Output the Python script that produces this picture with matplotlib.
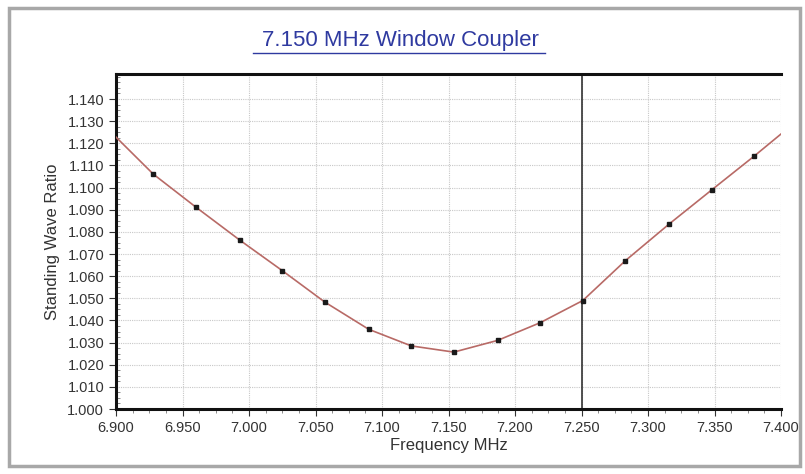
import numpy as np
import matplotlib
matplotlib.use('Agg')
import matplotlib.pyplot as plt
from matplotlib.patches import Rectangle
from matplotlib.ticker import MultipleLocator, FormatStrFormatter

plt.rcParams['font.family'] = ['Liberation Sans', 'DejaVu Sans']

# 数据：频率 (MHz) 与驻波比
freq = [6.900, 6.928, 6.960, 6.993, 7.025, 7.057, 7.090, 7.122, 7.154,
        7.187, 7.219, 7.251, 7.283, 7.316, 7.348, 7.380, 7.400]
swr = [1.1228, 1.1061, 1.0912, 1.0763, 1.0625, 1.0483, 1.0360, 1.0285, 1.0257,
       1.0310, 1.0390, 1.0490, 1.0670, 1.0836, 1.0990, 1.1143, 1.1242]
# 只有中间这些点有标记
mark_freq = freq[1:-1]
mark_swr = swr[1:-1]
band_edge = 7.250
y_ticks = [1.000, 1.010, 1.020, 1.030, 1.040, 1.050, 1.060, 1.070,
           1.080, 1.090, 1.100, 1.110, 1.120, 1.130, 1.140]

fig = plt.figure(figsize=(8.05, 4.74), dpi=100)
# 外框
fig.patches.append(Rectangle((0.011, 0.017), 0.983, 0.966, transform=fig.transFigure,
                             fill=False, edgecolor='#a8a8a8', linewidth=2.5))
ax = fig.add_axes([0.1441, 0.1371, 0.8261, 0.7068])

ax.plot(freq, swr, color='#b86a66', linewidth=1.2, zorder=3)
ax.plot(mark_freq, mark_swr, linestyle='none', marker='s', markersize=3,
        color='#1a1a1a', zorder=4)
ax.axvline(band_edge, color='#333333', linewidth=1.2, zorder=2)

ax.set_xlim(6.9, 7.4)
ax.set_ylim(1.0, 1.1513)
ax.xaxis.set_major_locator(MultipleLocator(0.05))
ax.xaxis.set_minor_locator(MultipleLocator(0.0125))
ax.set_yticks(y_ticks)
ax.yaxis.set_minor_locator(MultipleLocator(0.0025))
ax.xaxis.set_major_formatter(FormatStrFormatter('%.3f'))
ax.yaxis.set_major_formatter(FormatStrFormatter('%.3f'))
ax.tick_params(axis='both', which='major', labelsize=10.5, colors='#333333',
               length=5, width=0.8)
ax.tick_params(axis='both', which='minor', length=3, width=0.6, colors='#777777')
ax.tick_params(axis='y', which='minor', direction='in')

ax.grid(True, which='major', linestyle=(0, (1, 1)), color='#c8c8c8', linewidth=0.8)
ax.set_axisbelow(True)

for side in ['top', 'bottom', 'left']:
    ax.spines[side].set_linewidth(2.2)
    ax.spines[side].set_color('#111111')
ax.spines['right'].set_visible(False)

ax.set_xlabel('Frequency MHz', fontsize=12, color='#333333', labelpad=2)
ax.set_ylabel('Standing Wave Ratio', fontsize=12, color='#333333', labelpad=5)

fig.text(0.497, 0.914, '7.150 MHz Window Coupler', ha='center', va='center',
         fontsize=16, color='#2f3aa0')
# 标题下划线
fig.add_artist(plt.Line2D([0.314, 0.677], [0.888, 0.888], transform=fig.transFigure,
                          color='#2f3aa0', linewidth=1))

fig.savefig('out.png', dpi=100)
